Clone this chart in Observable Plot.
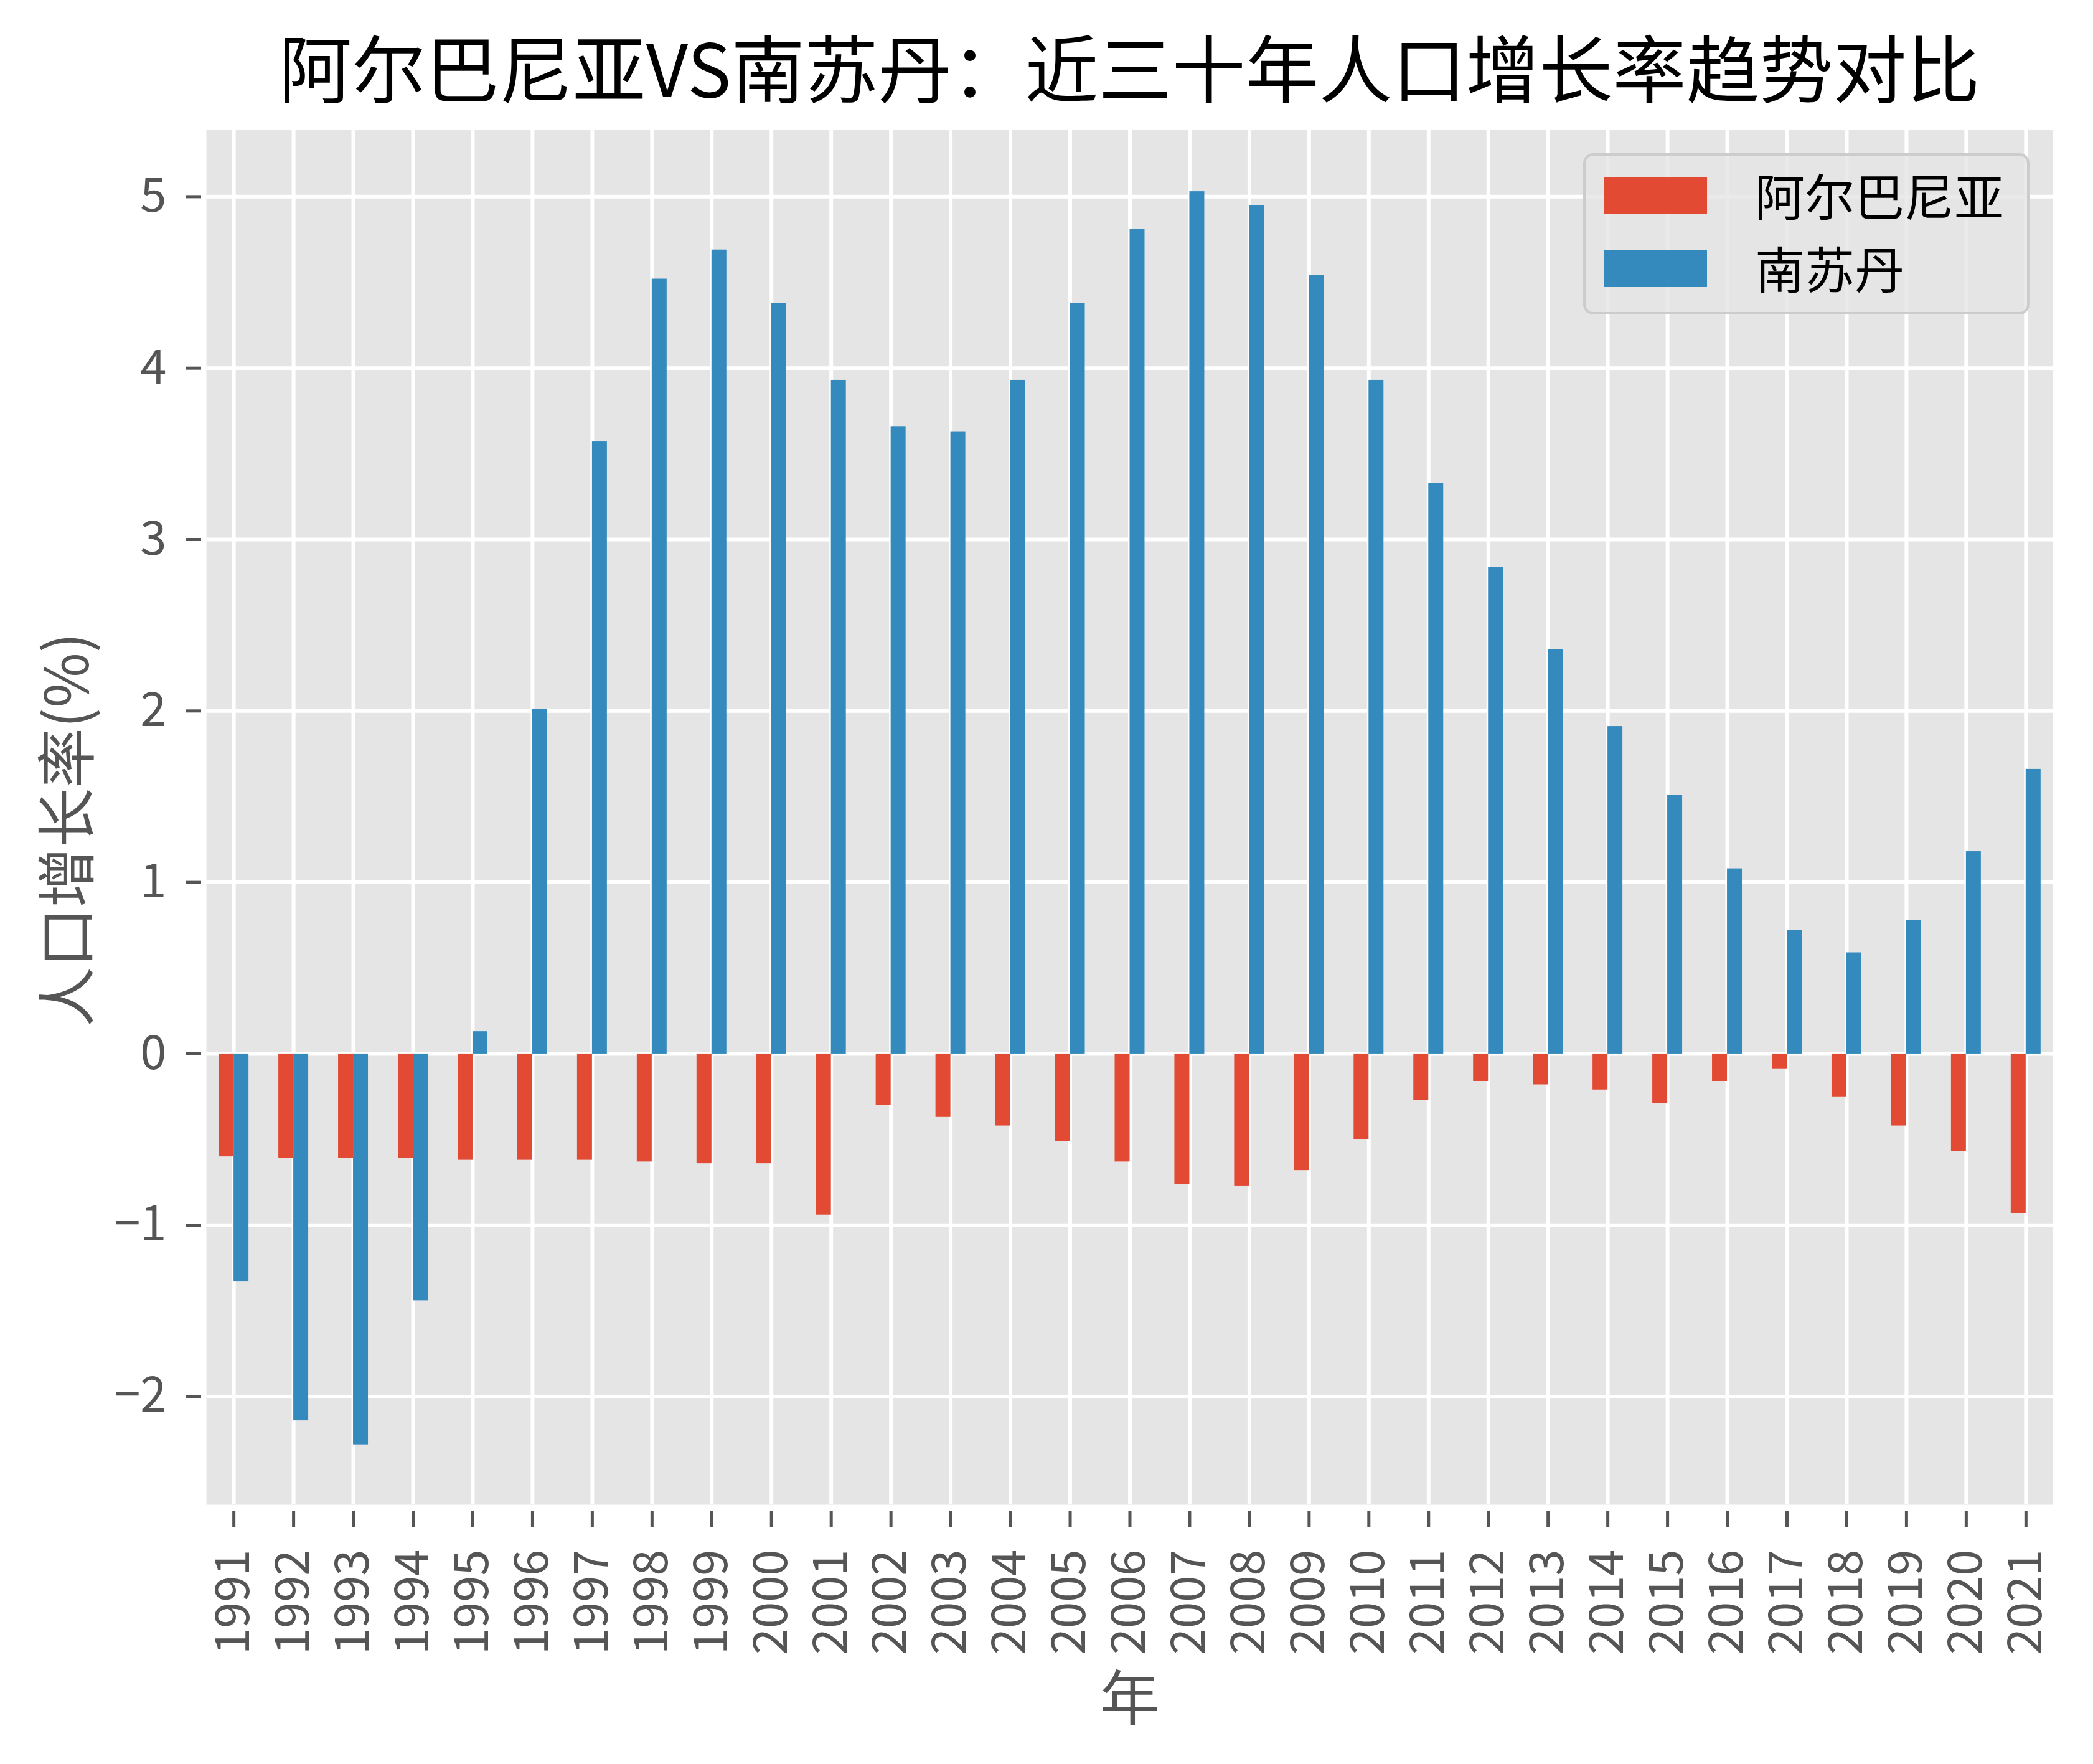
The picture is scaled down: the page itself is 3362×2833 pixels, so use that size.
<!DOCTYPE html>
<html>
<head>
<meta charset="utf-8">
<script src="https://cdn.jsdelivr.net/npm/d3@7"></script>
<script src="https://cdn.jsdelivr.net/npm/@observablehq/plot@0.6"></script>
<style>
  html, body { margin: 0; padding: 0; background: #ffffff; }
  #chart { position: relative; width: 3362px; height: 2833px; font-family: "Noto Sans CJK SC", sans-serif; }
  #title {
    position: absolute; top: 46px; left: 331px; width: 2966px;
    text-align: center; font-size: 118px; line-height: 118px; color: #000000;
    font-weight: 400; white-space: nowrap;
  }
  #plot { position: absolute; top: 163px; left: 0; }
  #legend {
    position: absolute; left: 2543px; top: 246px; width: 717px; height: 259px;
    box-sizing: border-box; border: 4px solid #cccccc; border-radius: 16px;
    background: rgba(229, 229, 229, 0.8);
  }
  .legend-row { position: absolute; left: 30px; height: 80px; display: flex; align-items: center; }
  .legend-swatch { width: 165px; height: 59px; }
  .legend-label { margin-left: 77px; font-size: 80px; line-height: 80px; color: #000000; white-space: nowrap; position: relative; top: -4px; }
</style>
</head>
<body>
<div id="chart">
  <div id="title"></div>
  <div id="plot"></div>
  <div id="legend"></div>
</div>
<script>
// Annual population growth rate (%), 1991–2021
const years = [1991, 1992, 1993, 1994, 1995, 1996, 1997, 1998, 1999, 2000,
               2001, 2002, 2003, 2004, 2005, 2006, 2007, 2008, 2009, 2010,
               2011, 2012, 2013, 2014, 2015, 2016, 2017, 2018, 2019, 2020, 2021];
const albania = [-0.60, -0.61, -0.61, -0.61, -0.62, -0.62, -0.62, -0.63, -0.64, -0.64,
                 -0.94, -0.30, -0.37, -0.42, -0.51, -0.63, -0.76, -0.77, -0.68, -0.50,
                 -0.27, -0.16, -0.18, -0.21, -0.29, -0.16, -0.09, -0.25, -0.42, -0.57, -0.93];
const southSudan = [-1.33, -2.14, -2.28, -1.44, 0.13, 2.01, 3.57, 4.52, 4.69, 4.38,
                    3.93, 3.66, 3.63, 3.93, 4.38, 4.81, 5.03, 4.95, 4.54, 3.93,
                    3.33, 2.84, 2.36, 1.91, 1.51, 1.08, 0.72, 0.59, 0.78, 1.18, 1.66];

const seriesNames = ["阿尔巴尼亚", "南苏丹"];
const seriesColors = ["#E24A33", "#348ABD"];
const yTicks = [-2, -1, 0, 1, 2, 3, 4, 5];

const titleText = "阿尔巴尼亚VS南苏丹：近三十年人口增长率趋势对比";
const xLabel = "年";
const yLabel = "人口增长率(%)";

// Long-format rows: each year has two side-by-side bars
const seriesValues = [albania, southSudan];
const rows = years.flatMap((year, i) =>
  seriesNames.map((name, k) => ({ year, series: name, slot: k, value: seriesValues[k][i] }))
);
const barWidth = 0.25; // in year units

const minusFormat = d => (d < 0 ? "\u2212" + Math.abs(d) : String(d));

const chart = Plot.plot({
  width: 3362,
  height: 2670,
  marginTop: 45,
  marginBottom: 417,
  marginLeft: 331,
  marginRight: 65,
  style: { fontFamily: "Noto Sans CJK SC", fontSize: "76px", color: "#555555", background: "transparent", overflow: "visible" },
  x: { domain: [1990.54, 2021.45] },
  y: { domain: [-2.63, 5.39] },
  color: { domain: seriesNames, range: seriesColors },
  marks: [
    Plot.frame({ fill: "#E5E5E5", stroke: "none" }),
    Plot.gridX(years, { stroke: "#ffffff", strokeOpacity: 1, strokeWidth: 6 }),
    Plot.gridY(yTicks, { stroke: "#ffffff", strokeOpacity: 1, strokeWidth: 6 }),
    Plot.rect(rows, {
      x1: d => d.year + (d.slot - 1) * barWidth,
      x2: d => d.year + d.slot * barWidth,
      y1: 0,
      y2: "value",
      fill: "series",
      inset: 0
    }),
    Plot.axisX(years, {
      tickFormat: d => String(d),
      tickRotate: -90,
      tickSize: 25,
      tickPadding: 36,
      strokeWidth: 5,
      dy: 11,
      label: null
    }),
    Plot.axisY(yTicks, {
      tickFormat: minusFormat,
      tickSize: 25,
      tickPadding: 31,
      strokeWidth: 5,
      dx: -8,
      label: null
    }),
    Plot.text([xLabel], { frameAnchor: "bottom", dy: 315, fontSize: 96, fill: "#555555", lineAnchor: "middle" }),
    Plot.text([yLabel], { frameAnchor: "left", textAnchor: "middle", dx: -220, dy: 20, rotate: -90, fontSize: 96, fill: "#555555", lineAnchor: "middle" })
  ]
});

document.getElementById("plot").appendChild(chart);
document.getElementById("title").textContent = titleText;

// Legend box
const legend = document.getElementById("legend");
seriesNames.forEach((name, k) => {
  const row = document.createElement("div");
  row.className = "legend-row";
  row.style.top = (24.5 + k * 117) + "px";
  const sw = document.createElement("div");
  sw.className = "legend-swatch";
  sw.style.background = seriesColors[k];
  const lab = document.createElement("div");
  lab.className = "legend-label";
  lab.textContent = name;
  row.appendChild(sw);
  row.appendChild(lab);
  legend.appendChild(row);
});
</script>
</body>
</html>
